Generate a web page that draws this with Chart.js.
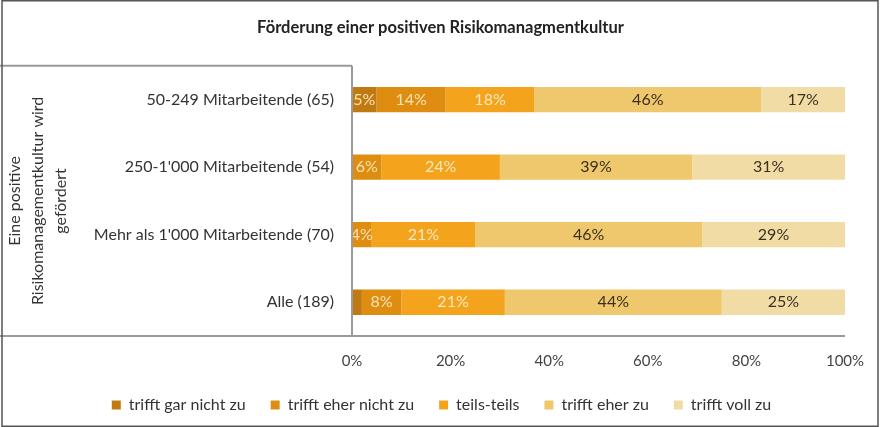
<!DOCTYPE html>
<html>
<head>
<meta charset="utf-8">
<script src="https://cdn.jsdelivr.net/npm/chart.js@4/dist/chart.umd.min.js"></script>
<style>
  body{margin:0;background:#fff;}
  canvas{display:block;}
</style>
</head>
<body>
<canvas id="chart" width="881" height="427"></canvas>
<script>
const categories = [
  "50-249 Mitarbeitende (65)",
  "250-1'000 Mitarbeitende (54)",
  "Mehr als 1'000 Mitarbeitende (70)",
  "Alle (189)"
];
const seriesNames = ["trifft gar nicht zu","trifft eher nicht zu","teils-teils","trifft eher zu","trifft voll zu"];
const garNicht   = [5, 0, 0, 2];
const eherNicht  = [14, 6, 4, 8];
const teils      = [18, 24, 21, 21];
const eherZu     = [46, 39, 46, 44];
const vollZu     = [17, 31, 29, 25];
const xTicks = [0, 20, 40, 60, 80, 100];

const colors = ["#C17A12", "#DE8D10", "#F4A31C", "#EFC76C", "#F1DCA6"];
const labelColors = ["#FBE3B4", "#FBE3B4", "#FBE8C0", "#3A3020", "#3A3020"];
const FONT = "Lato";

/* data labels inside bars */
const segLabels = {
  id:"segLabels",
  afterDatasetsDraw(chart){
    const ctx = chart.ctx;
    ctx.save();
    ctx.font = "16px " + FONT;
    ctx.textAlign = "center";
    ctx.textBaseline = "middle";
    chart.data.datasets.forEach((ds,di)=>{
      const meta = chart.getDatasetMeta(di);
      meta.data.forEach((bar,i)=>{
        const v = ds.data[i];
        if(v < 3) return;
        const cx = (bar.x + bar.base)/2;
        ctx.fillStyle = labelColors[di];
        ctx.fillText(v + "%", cx, bar.y);
      });
    });
    ctx.restore();
  }
};

/* title and legend sit a bit right of the padded centre */
const shiftBlocks = {
  id:"shiftBlocks",
  afterLayout(chart){
    if(chart.titleBlock){ chart.titleBlock.left += 17; chart.titleBlock.right += 17; }
    if(chart.legend){ chart.legend.left += 18; chart.legend.right += 18; }
  }
};

/* frame lines */
const frame = {
  id:"frame",
  afterDraw(chart){
    const ctx = chart.ctx;
    const a = chart.chartArea;
    ctx.save();
    ctx.strokeStyle = "#9a9a9a";
    ctx.lineWidth = 2;
    ctx.beginPath();
    ctx.moveTo(0, a.top); ctx.lineTo(a.left, a.top);
    ctx.moveTo(a.left, a.top); ctx.lineTo(a.left, a.bottom);
    ctx.moveTo(0, a.bottom); ctx.lineTo(a.right, a.bottom);
    ctx.stroke();
    ctx.strokeStyle = "#555";
    ctx.lineWidth = 1.5;
    ctx.strokeRect(2, 0.75, 876, 425.5);
    ctx.restore();
  }
};

new Chart(document.getElementById("chart"), {
  type:"bar",
  data:{
    labels:categories,
    datasets:[garNicht,eherNicht,teils,eherZu,vollZu].map((d,i)=>({
      label:seriesNames[i],
      data:d,
      backgroundColor:colors[i],
      borderWidth:0,
      categoryPercentage:1,
      barPercentage:0.375
    }))
  },
  options:{
    indexAxis:"y",
    responsive:false,
    animation:false,
    layout:{padding:{left:2, right:36, bottom:4}},
    plugins:{
      title:{
        display:true,
        text:"Förderung einer positiven Risikomanagmentkultur",
        color:"#222",
        font:{family:FONT, size:16.5, weight:"bold"},
        padding:{top:18, bottom:28}
      },
      legend:{
        position:"bottom",
        labels:{
          boxWidth:9, boxHeight:9,
          padding:25,
          color:"#333",
          font:{family:FONT, size:16}
        }
      },
      tooltip:{enabled:false}
    },
    scales:{
      x:{
        stacked:true,
        min:0, max:100,
        afterBuildTicks(scale){ scale.ticks = xTicks.map(v=>({value:v})); },
        grid:{display:false, drawTicks:false},
        border:{display:false},
        ticks:{
          padding:16,
          color:"#444",
          font:{family:FONT, size:15},
          callback:v=>v+"%"
        },
        afterFit(scale){ scale.height = 36; }
      },
      y:{
        stacked:true,
        grid:{display:false, drawTicks:false},
        border:{display:false},
        ticks:{
          padding:18,
          color:"#333",
          font:{family:FONT, size:16}
        },
        title:{
          display:true,
          text:["Eine positive","Risikomanagementkultur wird","gefördert"],
          color:"#333",
          font:{family:FONT, size:16, lineHeight:1.45},
          padding:{top:1, bottom:0}
        },
        afterFit(scale){ scale.width = 350; }
      }
    }
  },
  plugins:[segLabels, shiftBlocks, frame]
});
</script>
</body>
</html>
